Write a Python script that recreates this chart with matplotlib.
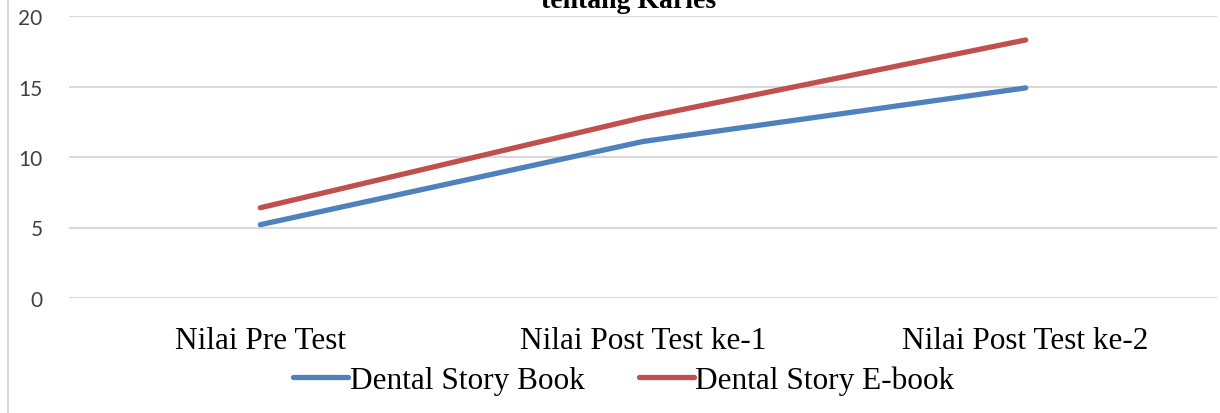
import matplotlib
matplotlib.use("Agg")
import matplotlib.pyplot as plt
from matplotlib.lines import Line2D

categories = ["Nilai Pre Test", "Nilai Post Test ke-1", "Nilai Post Test ke-2"]
book = [5.2, 11.1, 14.9]
ebook = [6.4, 12.8, 18.3]
series_names = ["Dental Story Book", "Dental Story E-book"]
yticks = [0, 5, 10, 15, 20]
title = "tentang Karies"

W, H = 1220, 414
fig = plt.figure(figsize=(W / 100, H / 100), dpi=100)
ax = fig.add_axes([69 / W, 1 - 299 / H, (1217 - 69) / W, (299 - 17) / H])

x = list(range(len(categories)))
l1, = ax.plot(x, book, color="#4F81BD", lw=3.8, solid_capstyle="round")
l2, = ax.plot(x, ebook, color="#C0504D", lw=3.8, solid_capstyle="round")

ax.set_xlim(-0.5, len(categories) - 0.5)
ax.set_ylim(0, 20)
ax.set_yticks(yticks)
ax.set_yticklabels([str(v) for v in yticks], fontfamily="Lato", fontsize=15, color="#404040")
ax.set_xticks(x)
ax.set_xticklabels(categories, fontfamily="Liberation Serif", fontsize=22.5, color="black")
ax.tick_params(axis="y", length=0, pad=19)
ax.tick_params(axis="x", length=0, pad=20)
ax.grid(axis="y", color="#D9D9D9", lw=1.5)
ax.set_axisbelow(True)
for s in ax.spines.values():
    s.set_visible(False)

fig.legend([l1, l2], series_names, loc="center", bbox_to_anchor=(624 / W, 1 - 381 / H),
           ncol=2, frameon=False, handlelength=1.75, handletextpad=0.05, columnspacing=1.75,
           prop={"family": "Liberation Serif", "size": 22.5})

fig.text(629 / W, 1 - 2 / H, title, ha="center", va="center", fontfamily="Liberation Serif",
         fontweight="bold", fontsize=20)

fig.add_artist(Line2D([7.5 / W, 7.5 / W], [0, 1], transform=fig.transFigure, color="#D9D9D9", lw=1.5))

fig.savefig("out.png", dpi=100)
